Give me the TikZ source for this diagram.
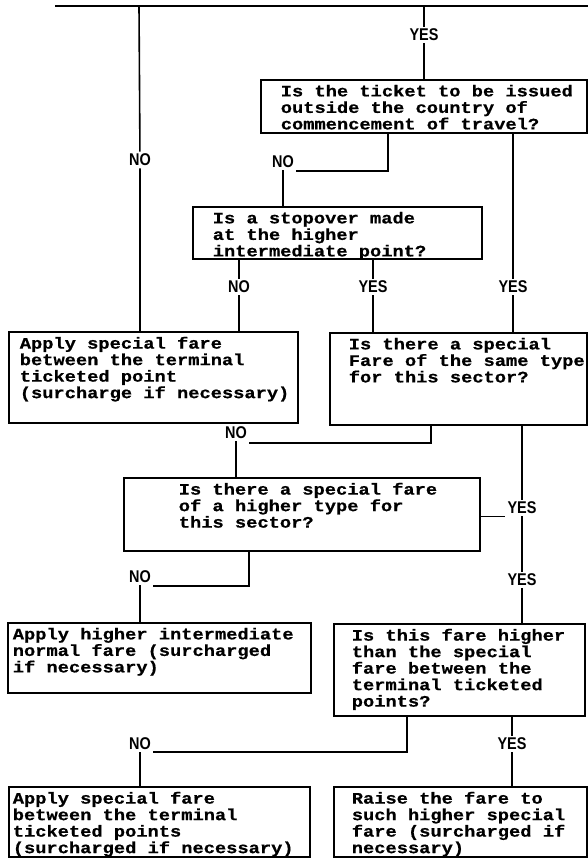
\documentclass[tikz,border=0pt]{standalone}
\usepackage{fontspec}
\newfontfamily\tw{Liberation Mono}[FakeStretch=1.17, FakeBold=0.6]
\newfontfamily\lab{Liberation Sans}[FakeStretch=0.85]
\begin{document}
\begin{tikzpicture}[x=1pt,y=-1pt, line width=1.6pt,
  box/.style={draw, rectangle, inner sep=0pt, outer sep=0pt, anchor=north west, line width=1.8pt},
  txt/.style={anchor=north west, inner sep=0pt, align=left, font=\tw\bfseries\fontsize{16}{16.5}\selectfont},
  lbl/.style={inner sep=1.5pt, font=\lab\bfseries\fontsize{17}{17}\selectfont}]
\useasboundingbox (0,0) rectangle (588,861);

% boxes
\node[box, minimum width=326pt, minimum height=53pt] (q1) at (261,80) {};
\node[txt] (q1t) at (280,84) {Is the ticket to be issued\\outside the country of\\commencement of travel?};

\node[box, minimum width=289pt, minimum height=52pt] (q2) at (193,207) {};
\node[txt] (q2t) at (212,211) {Is a stopover made\\at the higher\\intermediate point?};

\node[box, minimum width=289pt, minimum height=91pt] (a1) at (9,332) {};
\node[txt] (a1t) at (19,336) {Apply special fare\\between the terminal\\ticketed point\\(surcharge if necessary)};

\node[box, minimum width=257pt, minimum height=92pt] (q3) at (330,333) {};
\node[txt] (q3t) at (348,337) {Is there a special\\Fare of the same type\\for this sector?};

\node[box, minimum width=356pt, minimum height=73pt] (q4) at (124,478) {};
\node[txt] (q4t) at (178,482) {Is there a special fare\\of a higher type for\\this sector?};

\node[box, minimum width=303pt, minimum height=70pt] (a2) at (8,623) {};
\node[txt] (a2t) at (12,627) {Apply higher intermediate\\normal fare (surcharged\\if necessary)};

\node[box, minimum width=251pt, minimum height=92pt] (q5) at (334,624) {};
\node[txt] (q5t) at (351,628) {Is this fare higher\\than the special\\fare between the\\terminal ticketed\\points?};

\node[box, minimum width=301pt, minimum height=70pt] (a3) at (9,787) {};
\node[txt] (a3t) at (12,791) {Apply special fare\\between the terminal\\ticketed points\\(surcharged if necessary)};

\node[box, minimum width=253pt, minimum height=70pt] (a4) at (334,787) {};
\node[txt] (a4t) at (351,791) {Raise the fare to\\such higher special\\fare (surcharged if\\necessary)};

% top line
\coordinate (tl) at (55,6);
\coordinate (tr) at (588,6);
\draw (tl) -- (tr);

% left NO branch
\coordinate (jA) at (139,6);
\node[lbl] (no1) at (140,160) {NO};
\draw (jA) -- (no1) -- (no1 |- a1.north);

% top YES
\coordinate (jB) at (424,6);
\node[lbl] (yes1) at (424,35) {YES};
\draw (jB) -- (yes1) -- (yes1 |- q1.north);

% Q1 NO
\coordinate (c1) at (388,171);
\node[lbl] (no2) at (283,162) {NO};
\draw (q1.south -| c1) -- (c1) -- (no2.east |- c1);
\draw (no2) -- (no2 |- q2.north);

% Q1 YES
\node[lbl] (yes3) at (513,287) {YES};
\draw (q1.south -| yes3) -- (yes3) -- (yes3 |- q3.north);

% Q2 NO / YES
\node[lbl] (no3) at (239,287) {NO};
\draw (q2.south -| no3) -- (no3) -- (no3 |- a1.north);
\node[lbl] (yes2) at (373,287) {YES};
\draw (q2.south -| yes2) -- (yes2) -- (yes2 |- q3.north);

% Q3 NO
\coordinate (c2) at (431,443);
\node[lbl] (no4) at (236,433) {NO};
\draw (q3.south -| c2) -- (c2) -- (no4.east |- c2);
\draw (no4) -- (no4 |- q4.north);

% Q3 YES / Q4 YES
\node[lbl] (yes4) at (522,508) {YES};
\node[lbl] (yes5) at (522,580) {YES};
\draw (q3.south -| yes4) -- (yes4) -- (yes5) -- (yes5 |- q5.north);
\draw (q4.east |- yes4.south west) -- (yes4.south west);

% Q4 NO
\coordinate (c4) at (249,586);
\node[lbl] (no5) at (140,577) {NO};
\draw (q4.south -| c4) -- (c4) -- (no5.east |- c4);
\draw (no5) -- (no5 |- a2.north);

% Q5 NO / YES
\coordinate (c5) at (407,752);
\node[lbl] (no6) at (140,744) {NO};
\draw (q5.south -| c5) -- (c5) -- (no6.east |- c5);
\draw (no6) -- (no6 |- a3.north);
\node[lbl] (yes6) at (512,744) {YES};
\draw (q5.south -| yes6) -- (yes6) -- (yes6 |- a4.north);
\end{tikzpicture}
\end{document}
